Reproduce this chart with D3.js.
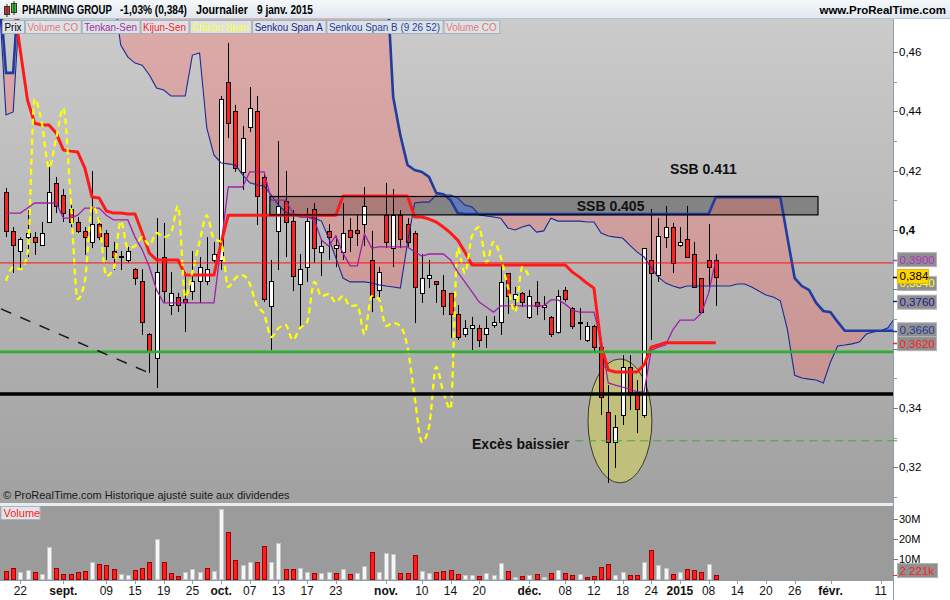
<!DOCTYPE html>
<html><head><meta charset="utf-8">
<script src="https://cdn.jsdelivr.net/npm/d3@7"></script>
<style>
body{margin:0;background:#fff;}
svg{display:block;font-family:"Liberation Sans",Arial,sans-serif;}
</style>
</head><body>
<svg id="c" width="950" height="600"></svg>
<script>
// ---------------- DATA ----------------
const open = [
0.4128,0.3997,0.3929,0.3976,0.3976,0.3949,0.4027,0.4159,0.4118,0.4071,
0.4027,0.3997,0.3960,0.4020,0.3990,0.3929,0.3909,0.3899,0.3868,0.3828,
0.3649,0.3568,0.3909,0.3747,0.3774,0.3767,0.3794,0.3828,0.3828,0.3899,
0.3899,0.4499,0.4401,0.4196,0.4347,0.4401,0.4179,0.3744,0.3997,0.4098,
0.4030,0.3818,0.3875,0.4071,0.3926,0.3997,0.3939,0.3926,0.4000,0.4000,
0.4020,0.3899,0.3798,0.4050,0.3939,0.4050,0.4020,0.3990,0.3788,0.3838,
0.3828,0.3798,0.3788,0.3717,0.3649,0.3669,0.3669,0.3649,0.3680,0.3690,
0.3855,0.3767,0.3788,0.3707,0.3757,0.3740,0.3707,0.3656,0.3798,0.3737,
0.3690,0.3629,0.3676,0.3605,0.3386,0.3285,0.3376,0.3538,0.3454,0.3376,
0.3899,0.3848,0.3976,0.4010,0.3949,0.3970,0.3919,0.3838,0.3899,0.3899];
const high = [
0.4142,0.4010,0.3975,0.4067,0.3993,0.4027,0.4212,0.4179,0.4138,0.4084,
0.4044,0.4010,0.4199,0.4040,0.4000,0.3960,0.3929,0.3943,0.3871,0.3868,
0.3652,0.4040,0.4024,0.3858,0.3788,0.3858,0.3929,0.3909,0.3976,0.3960,
0.4452,0.4631,0.4422,0.4351,0.4482,0.4452,0.4193,0.3899,0.4300,0.4199,
0.4067,0.3919,0.4074,0.4091,0.3970,0.4020,0.3980,0.4091,0.4040,0.4050,
0.4145,0.3997,0.3875,0.4159,0.4138,0.4067,0.4040,0.3997,0.3919,0.3899,
0.3828,0.3848,0.3788,0.3747,0.3696,0.3707,0.3680,0.3710,0.3710,0.3882,
0.3855,0.3808,0.3791,0.3798,0.3828,0.3777,0.3710,0.3798,0.3808,0.3740,
0.3737,0.3690,0.3680,0.3619,0.3477,0.3376,0.3578,0.3578,0.3494,0.3939,
0.4071,0.4040,0.4081,0.4024,0.4010,0.4081,0.3960,0.3838,0.4020,0.3919];
const low = [
0.3976,0.3855,0.3865,0.3909,0.3916,0.3949,0.4027,0.4057,0.4027,0.4010,
0.3990,0.3916,0.3939,0.3966,0.3899,0.3865,0.3865,0.3890,0.3814,0.3646,
0.3518,0.3467,0.3757,0.3713,0.3723,0.3656,0.3764,0.3754,0.3814,0.3890,
0.3865,0.4310,0.4196,0.4135,0.4330,0.4017,0.3757,0.3595,0.3865,0.3909,
0.3794,0.3673,0.3825,0.3889,0.3845,0.3899,0.3875,0.3899,0.3926,0.3946,
0.3946,0.3723,0.3774,0.3939,0.3875,0.3939,0.3943,0.3686,0.3754,0.3804,
0.3754,0.3713,0.3636,0.3629,0.3639,0.3595,0.3605,0.3602,0.3670,0.3646,
0.3717,0.3723,0.3740,0.3700,0.3713,0.3696,0.3639,0.3650,0.3757,0.3666,
0.3629,0.3622,0.3590,0.3376,0.3147,0.3197,0.3342,0.3393,0.3315,0.3366,
0.3629,0.3825,0.3939,0.3855,0.3943,0.3909,0.3808,0.3720,0.3794,0.3744];
const close = [
0.3997,0.3949,0.3970,0.3990,0.3960,0.3990,0.4128,0.4081,0.4057,0.4027,
0.3997,0.3976,0.4020,0.3976,0.3946,0.3909,0.3912,0.3929,0.3838,0.3690,
0.3589,0.3858,0.3794,0.3788,0.3747,0.3757,0.3828,0.3875,0.3868,0.3919,
0.4442,0.4361,0.4209,0.4310,0.4411,0.4115,0.3767,0.3828,0.4081,0.4027,
0.3845,0.3868,0.4030,0.3939,0.3946,0.3976,0.3949,0.3990,0.3976,0.3990,
0.4081,0.3774,0.3858,0.3960,0.4050,0.3970,0.3960,0.3808,0.3838,0.3848,
0.3818,0.3744,0.3717,0.3639,0.3669,0.3680,0.3629,0.3669,0.3690,0.3825,
0.3777,0.3784,0.3757,0.3777,0.3744,0.3746,0.3649,0.3777,0.3767,0.3676,
0.3687,0.3676,0.3605,0.3437,0.3285,0.3336,0.3538,0.3454,0.3396,0.3939,
0.3855,0.3980,0.4010,0.3889,0.3960,0.3909,0.3808,0.3723,0.3875,0.3840];
// volume in millions
const volume = [
4.0,5.3,3.3,4.3,3.3,2.3,15.8,5.3,2.3,2.3,
3.3,4.0,8.3,7.3,6.8,4.8,2.3,1.8,4.3,5.3,
8.3,19.8,8.3,2.8,1.3,3.3,4.8,3.3,5.3,3.8,
34.8,23.3,9.3,6.8,8.3,8.3,16.3,8.3,17.8,4.8,
4.8,5.3,3.3,2.8,2.8,3.3,2.8,4.8,2.3,2.8,
6.3,13.3,3.3,12.8,12.3,2.8,2.8,11.8,3.8,2.8,
3.3,3.9,4.3,2.3,1.8,1.8,1.3,2.8,1.8,7.8,
3.8,0.8,1.3,1.8,2.3,0.8,2.8,4.3,2.8,1.8,
2.3,0.8,1.3,5.8,7.3,1.8,3.3,1.8,1.8,8.3,
14.3,6.8,5.3,2.3,3.3,4.8,4.3,3.3,7.3,2.221];
const tenkan = [
0.4057,0.4057,0.4057,0.4074,0.4091,0.4091,0.4091,0.4091,0.4040,0.4040,
0.4050,0.4074,0.4074,0.4074,0.4050,0.4034,0.4034,0.4034,0.3976,0.3933,
0.3875,0.3798,0.3754,0.3754,0.3754,0.3754,0.3754,0.3754,0.3754,0.3754,
0.3949,0.4145,0.4145,0.4145,0.4196,0.4196,0.4196,0.4101,0.4101,0.4101,
0.4057,0.4044,0.4044,0.4034,0.3966,0.3946,0.3980,0.3922,0.3879,0.3879,
0.3987,0.3939,0.3943,0.3943,0.3943,0.3943,0.3943,0.3926,0.3912,0.3919,
0.3919,0.3919,0.3899,0.3858,0.3825,0.3791,0.3757,0.3740,0.3723,0.3744,
0.3744,0.3744,0.3744,0.3744,0.3744,0.3744,0.3764,0.3764,0.3750,0.3730,
0.3723,0.3723,0.3723,0.3629,0.3484,0.3477,0.3470,0.3464,0.3454,0.3454,
0.3595,0.3605,0.3612,0.3663,0.3696,0.3696,0.3696,0.3720,0.3788,0.3900];
const kijun = [
0.4900,0.4776,0.4604,0.4438,0.4360,0.4354,0.4354,0.4327,0.4270,0.4266,
0.4263,0.4209,0.4111,0.4108,0.4064,0.4057,0.4057,0.4054,0.4054,0.3990,
0.3922,0.3899,0.3899,0.3899,0.3899,0.3848,0.3848,0.3848,0.3848,0.3848,
0.3956,0.4050,0.4050,0.4050,0.4050,0.4050,0.4050,0.4050,0.4050,0.4050,
0.4050,0.4050,0.4050,0.4050,0.4050,0.4050,0.4050,0.4115,0.4115,0.4115,
0.4115,0.4115,0.4115,0.4115,0.4115,0.4115,0.4115,0.4044,0.4044,0.4037,
0.4027,0.4010,0.3990,0.3966,0.3926,0.3882,0.3882,0.3882,0.3882,0.3882,
0.3882,0.3882,0.3882,0.3882,0.3882,0.3882,0.3882,0.3882,0.3882,0.3858,
0.3841,0.3821,0.3804,0.3612,0.3528,0.3521,0.3521,0.3521,0.3521,0.3545,
0.3605,0.3612,0.3620,0.3620,0.3620,0.3620,0.3620,0.3620,0.3620,0.3620];
// Senkou spans: first value is day index -1, last is day index 125
const cloudStart = -1;
const senkouA = [
0.480,
0.4388,0.4398,
0.480,0.480,0.480,0.480,0.480,0.480,0.480,0.480,0.480,0.480,0.480,0.480,0.480,0.480,
0.4624,0.4583,0.4563,0.4556,0.4523,0.4479,0.4472,0.4452,0.4452,0.4452,
0.4590,0.4597,0.4344,0.4253,0.4226,0.4223,0.4219,0.4186,0.4159,0.4152,
0.4148,0.4118,0.4084,0.4061,0.4051,0.4044,0.4044,0.4040,0.4030,0.3973,
0.3906,0.3838,0.3825,0.3825,0.3825,0.3821,0.3815,0.3811,0.3808,0.3804,
0.3956,0.4091,0.4094,0.4094,0.4118,0.4118,0.4118,0.4108,0.4084,0.4078,
0.4051,0.4047,0.4044,0.4040,0.4007,0.4000,0.4010,0.4017,0.3993,0.3997,
0.4040,0.4030,0.4030,0.4030,0.4030,0.4027,0.4027,0.3990,0.3980,0.3976,
0.3973,0.3949,0.3926,0.3909,0.3872,0.3841,0.3821,0.3811,0.3804,0.3811,
0.3811,0.3811,0.3811,0.3811,0.3811,0.3811,0.3818,0.3818,0.3808,0.3794,
0.3781,0.3774,0.3761,0.3663,0.3510,0.3501,0.3497,0.3494,0.3484,0.3555,
0.3609,0.3612,0.3616,0.3622,0.3649,0.3656,0.3660,0.3670,0.3704,0.3760];
const senkouB = [
0.485,
0.4530,0.4530,
0.490,0.490,0.490,0.490,0.490,0.490,0.490,0.490,0.490,0.490,
0.490,0.490,0.490,0.490,0.490,0.490,0.490,0.490,0.490,0.490,
0.490,0.490,0.490,0.490,0.490,0.490,0.490,0.490,0.490,0.490,
0.490,0.490,0.490,0.490,0.490,0.490,0.490,0.490,0.490,0.490,
0.490,0.490,0.490,0.490,0.490,0.490,0.490,0.490,0.490,0.490,
0.490,0.490,
0.4449,0.4320,0.4219,0.4202,0.4196,0.4179,0.4125,0.4121,0.4101,0.4057,
0.4054,0.4054,0.4054,0.4054,0.4054,0.4054,0.4054,0.4054,0.4054,0.4054,
0.4054,0.4054,0.4054,0.4054,0.4054,0.4054,0.4054,0.4054,0.4054,0.4054,
0.4054,0.4054,0.4054,0.4054,0.4054,0.4054,0.4054,0.4054,0.4054,0.4054,
0.4054,0.4054,0.4054,0.4054,0.4054,
0.4111,0.4111,0.4111,0.4111,0.4111,0.4111,0.4111,0.4111,0.4111,0.4111,
0.3973,0.3838,0.3811,0.3798,0.3754,0.3727,0.3723,0.3690,
0.3660,0.3660,0.3660,0.3660,0.3660,0.3660,0.3660,0.3660,0.3660];
const chikouShift = 26;

// x-axis ticks (trading-day index) and labels
const tickIdx  = [2,8,14,18,22,26,30,34,38,42,46,53,58,62,66,73,78,82,86,90,94,98,102,106,110,115,122];
const tickText = ["22","sept.","09","15","19","25","oct.","07","13","17","23","nov.","10","14","20","déc.","08","12","18","24","2015","08","14","20","26","févr.","11"];
const boldTicks = ["sept.","oct.","nov.","déc.","2015","févr."];
const priceTicks = [0.32,0.34,0.36,0.38,0.40,0.42,0.44,0.46];
const priceTickLabels = ["0,32","0,34","","","0,4","0,42","0,44","0,46"]; // 0,36 / 0,38 hidden behind value boxes
const priceMinor = [0.31,0.33,0.35,0.37,0.39,0.41,0.43,0.45];
const volTicks = [10,20,30];
const volTickText = ["10M","20M","30M"];

// annotations (index, value)
const hLineVals = [0.3889, 0.3589, 0.3447];
const dashedGreen = {from: 79.4, value: 0.3289};
const diagIdx = [-0.7, 19.67];
const diagVal = [0.3734, 0.3521];
const ssbBoxIdx = [36.8, 113.25];
const ssbBoxVal = [0.4051, 0.4113];
const annText = ["SSB 0.405","SSB 0.411","Excès baissier"];
const annIdx = [79.6, 92.6, 65.0];
const annVal = [0.4064, 0.4189, 0.3261];
const ellipseIdx = 85.63, ellipseVal = 0.3356, ellipseHalfDays = 4.46, ellipseHalfVal = 0.0209;

const valLabelText = ["0,3900","0,3840","0,384","0,3760","0,3660","0,3620"];
const valLabelVal  = [0.3900,0.3840,0.3840,0.3760,0.3660,0.3620];

const legendText = ["Prix","Volume CO","Tenkan-Sen","Kijun-Sen","Chikou Span","Senkou Span A","Senkou Span B (9 26 52)","Volume CO"];

// ---------------- LAYOUT ----------------
const svg = d3.select("#c");
const plotR = 893, plotT = 19, plotB = 503, volT = 506, volB = 580;
const x = d3.scaleLinear().domain([0, 99]).range([6, 715.8]);
const y = d3.scaleLinear().domain([0.32, 0.46]).range([467.2, 52.1]);
const yv = d3.scaleLinear().domain([0, 30]).range([579, 519]);

const defs = svg.append("defs");
const g1 = defs.append("linearGradient").attr("id","bgMain").attr("x1",0).attr("y1",0).attr("x2",0).attr("y2",1);
g1.append("stop").attr("offset","0%").attr("stop-color","#cbcbcb");
g1.append("stop").attr("offset","100%").attr("stop-color","#a1a1a1");
const g2 = defs.append("linearGradient").attr("id","bgTitle").attr("x1",0).attr("y1",0).attr("x2",0).attr("y2",1);
g2.append("stop").attr("offset","0%").attr("stop-color","#f6f9fb");
g2.append("stop").attr("offset","100%").attr("stop-color","#dfe7ee");
defs.append("clipPath").attr("id","clipMain").append("rect")
  .attr("x",0).attr("y",plotT).attr("width",plotR).attr("height",plotB-plotT);

// backgrounds
svg.append("rect").attr("x",0).attr("y",0).attr("width",950).attr("height",18).attr("fill","url(#bgTitle)");
svg.append("line").attr("x1",0).attr("x2",950).attr("y1",18.5).attr("y2",18.5).attr("stroke","#b8c4ce");
svg.append("rect").attr("x",0).attr("y",plotT).attr("width",plotR).attr("height",plotB-plotT).attr("fill","url(#bgMain)");
svg.append("rect").attr("x",0).attr("y",volT).attr("width",plotR).attr("height",volB-volT).attr("fill","#9b9b9b");
svg.append("line").attr("x1",0).attr("x2",950).attr("y1",504.5).attr("y2",504.5).attr("stroke","#e8ecef").attr("stroke-width",3);

const main = svg.append("g").attr("clip-path","url(#clipMain)");

// SSB box fill
main.append("rect")
  .attr("x", x(ssbBoxIdx[0])).attr("y", y(ssbBoxVal[1]))
  .attr("width", x(ssbBoxIdx[1]) - x(ssbBoxIdx[0])).attr("height", y(ssbBoxVal[0]) - y(ssbBoxVal[1]))
  .attr("fill","rgba(55,55,55,0.42)");

// cloud
const pts = [];
for (let k = 0; k < senkouA.length; k++) {
  const i = k + cloudStart, a = senkouA[k], b = senkouB[k], d2 = b - a;
  if (k > 0) {
    const pa = senkouA[k-1], pb = senkouB[k-1], d1 = pb - pa;
    if (d1 * d2 < 0) {
      const t = d1 / (d1 - d2), v = pa + t * (a - pa);
      pts.push({i: i - 1 + t, a: v, b: v, cross: true});
    }
  }
  pts.push({i, a, b, cross: d2 === 0});
}
const runs = []; let cur = [], sign = 0;
pts.forEach(p => {
  if (p.cross) { cur.push(p); runs.push({sign, pts: cur}); cur = [p]; sign = 0; }
  else { const s = Math.sign(p.b - p.a); if (sign === 0) sign = s; cur.push(p); }
});
runs.push({sign, pts: cur});
const poly = d3.line().x(d => d[0]).y(d => d[1]);
runs.forEach(r => {
  if (r.pts.length < 2) return;
  const top = r.pts.map(p => [x(p.i), y(p.a)]);
  const bot = r.pts.slice().reverse().map(p => [x(p.i), y(p.b)]);
  main.append("path").attr("d", poly(top.concat(bot)) + "Z")
    .attr("fill", r.sign >= 0 ? "rgba(255,105,105,0.34)" : "rgba(60,110,235,0.45)");
});

// ellipse
main.append("ellipse")
  .attr("cx", x(ellipseIdx)).attr("cy", y(ellipseVal))
  .attr("rx", x(ellipseIdx + ellipseHalfDays) - x(ellipseIdx))
  .attr("ry", y(ellipseVal - ellipseHalfVal) - y(ellipseVal))
  .attr("fill","#c1bf7c").attr("stroke","#3a3a20").attr("stroke-width",1);

// candles
const idx = d3.range(close.length);
const cx = i => Math.round(x(i));
main.selectAll("line.wick").data(idx).join("line").attr("class","wick")
  .attr("x1", i => cx(i)+0.5).attr("x2", i => cx(i)+0.5)
  .attr("y1", i => y(high[i])).attr("y2", i => y(low[i]))
  .attr("stroke","#000").attr("stroke-width",1);
main.selectAll("rect.body").data(idx).join("rect").attr("class","body")
  .attr("x", i => cx(i)-2+0.5).attr("width",4)
  .attr("y", i => Math.round(y(Math.max(open[i],close[i])))+0.5)
  .attr("height", i => Math.max(1, Math.round(Math.abs(y(open[i])-y(close[i])))))
  .attr("fill", i => close[i] >= open[i] ? "#ffffff" : "#ff2020")
  .attr("stroke","#000").attr("stroke-width",1);

// indicator lines
const lineIdx = (arr, start) => d3.line().x((d,k) => x(k + start)).y(d => y(d))(arr);
main.append("path").attr("d", lineIdx(senkouA, cloudStart)).attr("fill","none").attr("stroke","#1c2a96").attr("stroke-width",1.1);
main.append("path").attr("d", lineIdx(senkouB, cloudStart)).attr("fill","none").attr("stroke","#1f3c9e").attr("stroke-width",2.6);
main.append("path").attr("d", lineIdx(tenkan, 0)).attr("fill","none").attr("stroke","#a020a8").attr("stroke-width",1.3);
main.append("path").attr("d", lineIdx(kijun, 0)).attr("fill","none").attr("stroke","#ff1a1a").attr("stroke-width",3).attr("stroke-linejoin","round");
const chik = d3.line().curve(d3.curveMonotoneX).x((d,k) => x(k)).y(d => y(d))(close.slice(chikouShift));
main.append("path").attr("d", chik).attr("fill","none").attr("stroke","#ffff00").attr("stroke-width",2.3).attr("stroke-dasharray","6,4");

// horizontal lines
main.append("line").attr("x1",0).attr("x2",plotR).attr("y1",y(hLineVals[0])).attr("y2",y(hLineVals[0])).attr("stroke","#ff1010").attr("stroke-width",1);
main.append("line").attr("x1",0).attr("x2",plotR).attr("y1",y(hLineVals[1])).attr("y2",y(hLineVals[1])).attr("stroke","#2fae2f").attr("stroke-width",2.6);
main.append("line").attr("x1",0).attr("x2",plotR).attr("y1",y(hLineVals[2])).attr("y2",y(hLineVals[2])).attr("stroke","#000").attr("stroke-width",3.4);
main.append("line").attr("x1",x(dashedGreen.from)).attr("x2",plotR).attr("y1",y(dashedGreen.value)).attr("y2",y(dashedGreen.value))
  .attr("stroke","#3cae3c").attr("stroke-width",1).attr("stroke-dasharray","8,5");
main.append("line").attr("x1",x(diagIdx[0])).attr("x2",x(diagIdx[1])).attr("y1",y(diagVal[0])).attr("y2",y(diagVal[1]))
  .attr("stroke","#1a1a1a").attr("stroke-width",1.5).attr("stroke-dasharray","11,10");

// SSB box border
main.append("rect")
  .attr("x", x(ssbBoxIdx[0])).attr("y", y(ssbBoxVal[1]))
  .attr("width", x(ssbBoxIdx[1]) - x(ssbBoxIdx[0])).attr("height", y(ssbBoxVal[0]) - y(ssbBoxVal[1]))
  .attr("fill","none").attr("stroke","#000").attr("stroke-width",1.2);

// annotation texts
annText.forEach((t,k) => {
  main.append("text").attr("x", x(annIdx[k])).attr("y", y(annVal[k]))
    .attr("font-size",14).attr("font-weight","bold").attr("fill","#111").text(t);
});

svg.append("text").attr("x",3).attr("y",499).attr("font-size",11).attr("fill","#1a1a1a")
  .text("© ProRealTime.com Historique ajusté suite aux dividendes");

// volume bars
const up = i => i > 0 && close[i] >= close[i-1];
svg.selectAll("rect.vol").data(idx).join("rect").attr("class","vol")
  .attr("x", i => cx(i)-2+0.5).attr("width",4)
  .attr("y", i => Math.round(yv(volume[i]))+0.5)
  .attr("height", i => Math.max(1, Math.round(yv(0) - yv(volume[i]))))
  .attr("fill", i => up(i) ? "#f6f6f6" : "#ff1c1c")
  .attr("stroke", i => up(i) ? "#c4c4c4" : "#a00000").attr("stroke-width",1);

// volume label
svg.append("rect").attr("x",1).attr("y",506.5).attr("width",39).attr("height",13).attr("fill","#dfe5ea").attr("stroke","#aab5bf");
svg.append("text").attr("x",3.5).attr("y",517).attr("font-size",11).attr("fill","#ff2020").text("Volume");

// right axes
svg.append("rect").attr("x",plotR+0.5).attr("y",plotT).attr("width",950-plotR).attr("height",volB-plotT).attr("fill","#fff");
svg.append("line").attr("x1",plotR+0.5).attr("x2",plotR+0.5).attr("y1",plotT).attr("y2",600).attr("stroke","#8d9dac");
svg.append("line").attr("x1",0).attr("x2",plotR).attr("y1",volB+0.5).attr("y2",volB+0.5).attr("stroke","#8d9dac");
svg.selectAll("line.pmin").data(priceMinor).join("line").attr("class","pmin")
  .attr("x1",plotR).attr("x2",plotR+4).attr("y1",d=>Math.round(y(d))+0.5).attr("y2",d=>Math.round(y(d))+0.5).attr("stroke","#8d9dac");
svg.selectAll("line.pmaj").data(priceTicks).join("line").attr("class","pmaj")
  .attr("x1",plotR).attr("x2",plotR+5).attr("y1",d=>Math.round(y(d))+0.5).attr("y2",d=>Math.round(y(d))+0.5).attr("stroke","#6d7d8c");
svg.selectAll("text.pt").data(priceTicks).join("text").attr("class","pt")
  .attr("x",plotR+6).attr("y",d=>y(d)+4).attr("font-size",11.5)
  .attr("font-weight",(d,k)=>priceTickLabels[k]==="0,4"?"bold":"normal")
  .text((d,k) => priceTickLabels[k]);
svg.selectAll("line.vt").data(volTicks).join("line").attr("class","vt")
  .attr("x1",plotR).attr("x2",plotR+5).attr("y1",d=>Math.round(yv(d))+0.5).attr("y2",d=>Math.round(yv(d))+0.5).attr("stroke","#6d7d8c");
svg.selectAll("text.vtt").data(volTicks).join("text").attr("class","vtt")
  .attr("x",plotR+6).attr("y",d=>yv(d)+4).attr("font-size",11).text((d,k)=>volTickText[k]);

// value labels on price axis
const vlColor = ["#b030c8","#ffff30","#000000","#1a1a8e","#1e3a9e","#ff2020"];
const vlBg    = ["#8f8f8f","#8f8f8f","#ffd500","#8f8f8f","#8f8f8f","#8f8f8f"];
const vlTick  = ["#b030c8","#d0c000","#000000","#1a1a8e","#1e3a9e","#ff2020"];
const vlDy    = [0, 6, -1, 1, -1, 1];
valLabelText.forEach((t,k) => {
  const yy = y(valLabelVal[k]) + vlDy[k];
  svg.append("line").attr("x1",plotR).attr("x2",plotR+4).attr("y1",Math.round(y(valLabelVal[k]))+0.5).attr("y2",Math.round(y(valLabelVal[k]))+0.5).attr("stroke",vlTick[k]).attr("stroke-width",1.5);
  const w = k===2 ? 31 : 39;
  svg.append("rect").attr("x",plotR+4.5).attr("y",yy-7).attr("width",w).attr("height",14)
    .attr("fill",vlBg[k]).attr("stroke", k===2 ? "#e0b800" : "#b4b4b4");
  svg.append("text").attr("x",plotR+6.5).attr("y",yy+4).attr("font-size",11.5).attr("fill",vlColor[k]).text(t);
});
// volume current label
{
  const yy = yv(volume[volume.length-1]) - 4;
  svg.append("line").attr("x1",plotR).attr("x2",plotR+4).attr("y1",Math.round(yv(volume[volume.length-1]))+0.5).attr("y2",Math.round(yv(volume[volume.length-1]))+0.5).attr("stroke","#ff2020");
  svg.append("rect").attr("x",plotR+4.5).attr("y",yy-7).attr("width",40).attr("height",14).attr("fill","#8f8f8f").attr("stroke","#b4b4b4");
  svg.append("text").attr("x",plotR+6.5).attr("y",yy+4).attr("font-size",11.5).attr("fill","#ff2020").text("2 221k");
}
// right green dashed tick
svg.append("line").attr("x1",plotR).attr("x2",plotR+4).attr("y1",y(dashedGreen.value)).attr("y2",y(dashedGreen.value)).attr("stroke","#3cae3c");

// x axis
svg.selectAll("line.xt").data(tickIdx).join("line").attr("class","xt")
  .attr("x1",d=>cx(d)+0.5).attr("x2",d=>cx(d)+0.5).attr("y1",volB).attr("y2",volB+4).attr("stroke","#8d9dac");
svg.selectAll("text.xl").data(tickIdx).join("text").attr("class","xl")
  .attr("x",d=>x(d)).attr("y",595).attr("text-anchor","middle").attr("font-size",12)
  .attr("font-weight",(d,k)=>boldTicks.includes(tickText[k])?"bold":"normal")
  .attr("fill","#111").text((d,k)=>tickText[k]);

// title
svg.append("rect").attr("x",4.5).attr("y",6.5).attr("width",5).attr("height",8).attr("fill","#e83030").attr("stroke","#333");
svg.append("line").attr("x1",7).attr("x2",7).attr("y1",4).attr("y2",17).attr("stroke","#333");
svg.append("rect").attr("x",11.5).attr("y",3.5).attr("width",5).attr("height",9).attr("fill","#30c030").attr("stroke","#333");
svg.append("line").attr("x1",14).attr("x2",14).attr("y1",1).attr("y2",15).attr("stroke","#333");
const titleParts = ["PHARMING GROUP","-1,03% (0,384)","Journalier","9 janv. 2015"];
const titleX = [22,120,196,257], titleW = [90,67,52,56];
titleParts.forEach((t,k)=>{
  const tg = svg.append("g");
  const tx = tg.append("text").attr("x",0).attr("y",0).attr("font-size",12).attr("font-weight","bold").attr("fill","#000").text(t);
  const s = titleW[k] / tx.node().getComputedTextLength();
  tg.attr("transform", `translate(${titleX[k]},14) scale(${s},1)`);
});
svg.append("text").attr("x",946).attr("y",14).attr("text-anchor","end").attr("font-size",11.5).attr("font-weight","bold").text("www.ProRealTime.com");

// legend
const legColor = ["#000000","#e87878","#a030a8","#ff2020","#ffff30","#1c1c8a","#2442a0","#e87878"];
const legScale = 0.9;
let lx = 2;
legendText.forEach((t,k)=>{
  const lg = svg.append("g");
  const rect = lg.append("rect");
  const tg = lg.append("g");
  const tx = tg.append("text").attr("x",0).attr("y",0).attr("font-size",11).attr("fill",legColor[k]).text(t);
  const tw = tx.node().getComputedTextLength() * legScale;
  tg.attr("transform", `translate(${lx+2.5},31) scale(${legScale},1)`);
  const w = tw + 5;
  rect.attr("x",lx+0.5).attr("y",20.5).attr("width",w).attr("height",13)
    .attr("fill","#dde2e6").attr("stroke","#a5b2be");
  lx += w + 1;
});
</script>
</body></html>
